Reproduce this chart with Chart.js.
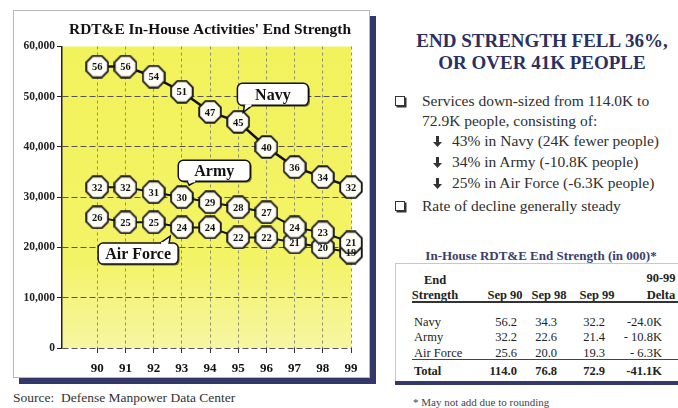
<!DOCTYPE html>
<html>
<head>
<meta charset="utf-8">
<script src="https://cdn.jsdelivr.net/npm/chart.js@4.4.1/dist/chart.umd.min.js"></script>
<style>
html, body { margin: 0; padding: 0; background: #fff; }
body { width: 678px; height: 408px; position: relative; overflow: hidden;
       font-family: 'Liberation Serif', 'Times New Roman', serif; color: #2a2a2a; }
#frame { position: absolute; left: 13px; top: 10px; width: 357px; height: 368px; box-sizing: border-box;
         border: 1px solid #b8b8b8; background: #fff; box-shadow: 6px 6px 0 #33376a; }
#wrap { position: absolute; left: 13px; top: 10px; width: 357px; height: 368px; }
.t { position: absolute; white-space: nowrap; line-height: 1; }
.c { transform: translate(-50%, -50%); }
.r { transform: translate(-100%, -50%); }
.m { transform: translateY(-50%); }
.head { font-weight: bold; font-size: 19px; color: #2b2f62; }
.txt { font-size: 15.5px; color: #2e2e2e; }
.box { position: absolute; width: 8px; height: 8px; border: 1.3px solid #333; box-shadow: 1.5px 1.5px 0 #333; }
.arrow { position: absolute; }
.tb { font-size: 12.5px; color: #222; }
.tb b { font-weight: bold; }
.line { position: absolute; }
</style>
</head>
<body>
<div id="frame"></div>
<div id="wrap"><canvas id="grafico"></canvas></div>

<div class="t" style="left:13px; top:391px; font-size:13.5px; color:#333;">Source:&nbsp; Defense Manpower Data Center</div>

<!-- right panel -->
<div class="t c head" style="left:542px; top:40px;">END STRENGTH FELL 36%,</div>
<div class="t c head" style="left:542px; top:62px;">OR OVER 41K PEOPLE</div>

<div class="box" style="left:395px; top:96px;"></div>
<div class="t m txt" style="left:422px; top:101px;">Services down-sized from 114.0K to</div>
<div class="t m txt" style="left:422px; top:121px;">72.9K people, consisting of:</div>
<svg class="arrow" style="left:433px; top:136px;" width="9" height="11" viewBox="0 0 9 11"><path d="M3 0h3v6h3l-4.5 5L0 6h3z" fill="#333"/></svg>
<div class="t m txt" style="left:452px; top:141px;">43% in Navy (24K fewer people)</div>
<svg class="arrow" style="left:433px; top:157px;" width="9" height="11" viewBox="0 0 9 11"><path d="M3 0h3v6h3l-4.5 5L0 6h3z" fill="#333"/></svg>
<div class="t m txt" style="left:452px; top:162px;">34% in Army (-10.8K people)</div>
<svg class="arrow" style="left:433px; top:178px;" width="9" height="11" viewBox="0 0 9 11"><path d="M3 0h3v6h3l-4.5 5L0 6h3z" fill="#333"/></svg>
<div class="t m txt" style="left:452px; top:183px;">25% in Air Force (-6.3K people)</div>
<div class="box" style="left:395px; top:201px;"></div>
<div class="t m txt" style="left:422px; top:206px;">Rate of decline generally steady</div>

<!-- table -->
<div class="t c" style="left:541px; top:255px; font-size:13px; font-weight:bold; color:#3a3e6c;">In-House RDT&amp;E End Strength (in 000)*</div>
<div class="line" style="left:395px; top:263px; width:283px; height:1px; background:#c8c8c8;"></div>
<div class="line" style="left:395px; top:263px; width:1px; height:120px; background:#c8c8c8;"></div>
<div class="t c tb" style="left:435px; top:280px;"><b>End</b></div>
<div class="t c tb" style="left:435px; top:295px;"><b>Strength</b></div>
<div class="t c tb" style="left:505px; top:295px;"><b>Sep 90</b></div>
<div class="t c tb" style="left:549px; top:295px;"><b>Sep 98</b></div>
<div class="t c tb" style="left:597px; top:295px;"><b>Sep 99</b></div>
<div class="t c tb" style="left:661px; top:278px;"><b>90-99</b></div>
<div class="t c tb" style="left:661px; top:295px;"><b>Delta</b></div>
<div class="line" style="left:412px; top:301px; width:266px; height:1.5px; background:#333;"></div>

<div class="t m tb" style="left:414px; top:322px;">Navy</div>
<div class="t r tb" style="left:517px; top:322px;">56.2</div>
<div class="t r tb" style="left:557px; top:322px;">34.3</div>
<div class="t r tb" style="left:605px; top:322px;">32.2</div>
<div class="t r tb" style="left:662px; top:322px;">-24.0K</div>

<div class="t m tb" style="left:414px; top:337px;">Army</div>
<div class="t r tb" style="left:517px; top:337px;">32.2</div>
<div class="t r tb" style="left:557px; top:337px;">22.6</div>
<div class="t r tb" style="left:605px; top:337px;">21.4</div>
<div class="t r tb" style="left:662px; top:337px;">- 10.8K</div>

<div class="t m tb" style="left:414px; top:353px;">Air Force</div>
<div class="t r tb" style="left:517px; top:353px;">25.6</div>
<div class="t r tb" style="left:557px; top:353px;">20.0</div>
<div class="t r tb" style="left:605px; top:353px;">19.3</div>
<div class="t r tb" style="left:662px; top:353px;">- 6.3K</div>
<div class="line" style="left:412px; top:359px; width:266px; height:1px; background:#444;"></div>

<div class="t m tb" style="left:414px; top:371px;"><b>Total</b></div>
<div class="t r tb" style="left:517px; top:371px;"><b>114.0</b></div>
<div class="t r tb" style="left:557px; top:371px;"><b>76.8</b></div>
<div class="t r tb" style="left:605px; top:371px;"><b>72.9</b></div>
<div class="t r tb" style="left:662px; top:371px;"><b>-41.1K</b></div>
<div class="line" style="left:395px; top:381px; width:283px; height:4px; background:#34386a;"></div>
<div class="t m" style="left:413px; top:402px; font-size:11px; color:#444;">* May not add due to rounding</div>

<script>
const SERIF = "'Liberation Serif', 'Times New Roman', serif";

// end strength in thousands
const years = ['90', '91', '92', '93', '94', '95', '96', '97', '98', '99'];
const navy = [56, 56, 54, 51, 47, 45, 40, 36, 34, 32];
const army = [32, 32, 31, 30, 29, 28, 27, 24, 23, 21];
const airForce = [26, 25, 25, 24, 24, 22, 22, 21, 20, 19];
const yTicks = [0, 10, 20, 30, 40, 50, 60];

// callout boxes, anchored in data units
const callouts = [
    { text: 'Navy', x: 96.23, y: 50.47, w: 71, h: 22, tipX: 95.18, tipY: 46.9, edge: 'bottom', base: [7, 15] },
    { text: 'Army', x: 94.15, y: 35.27, w: 72, h: 21, tipX: 93.26, tipY: 32.4, edge: 'bottom', base: [9, 18] },
    { text: 'Air Force', x: 91.45, y: 18.78, w: 80, h: 21, tipX: 92.59, tipY: 22.25, edge: 'top', base: [62, 71] }
];

function makeOctagon(size) {
    const c = document.createElement('canvas');
    c.width = c.height = size;
    const g = c.getContext('2d');
    const mid = size / 2;
    const r = (mid - 1.2) / Math.cos(Math.PI / 8);
    g.beginPath();
    for (let k = 0; k < 8; k++) {
        const a = Math.PI / 8 + k * Math.PI / 4;
        const px = mid + r * Math.cos(a), py = mid + r * Math.sin(a);
        if (k === 0) g.moveTo(px, py); else g.lineTo(px, py);
    }
    g.closePath();
    g.fillStyle = '#fdfdf6';
    g.fill();
    g.lineWidth = 1.9;
    g.strokeStyle = '#1a1a1a';
    g.stroke();
    return c;
}
const octagon = makeOctagon(24);

const toPoints = vals => vals.map((v, i) => ({ x: Number(years[i]), y: v }));

const plotBackground = {
    id: 'plotBackground',
    beforeDraw(chart) {
        const { ctx, chartArea: a } = chart;
        const g = ctx.createLinearGradient(0, a.top, 0, a.bottom);
        g.addColorStop(0, '#f2f25c');
        g.addColorStop(0.7, '#f3f366');
        g.addColorStop(1, '#f6f6a2');
        ctx.save();
        ctx.fillStyle = g;
        ctx.fillRect(a.left, a.top, a.right - a.left, a.bottom - a.top);
        ctx.restore();
    }
};

// numbers inside the octagons, drawn after all markers so none gets hidden
const markerLabels = {
    id: 'markerLabels',
    afterDatasetsDraw(chart) {
        const ctx = chart.ctx;
        ctx.save();
        ctx.font = 'bold 10.5px ' + SERIF;
        ctx.fillStyle = '#111';
        ctx.textAlign = 'center';
        ctx.textBaseline = 'middle';
        chart.data.datasets.forEach((ds, di) => {
            chart.getDatasetMeta(di).data.forEach((pt, i) => {
                ctx.fillText(String(ds.data[i].y), pt.x, pt.y + 1);
            });
        });
        ctx.restore();
    }
};

const calloutBoxes = {
    id: 'calloutBoxes',
    afterDatasetsDraw(chart) {
        const { ctx, scales: { x, y } } = chart;
        callouts.forEach(c => {
            const cx = x.getPixelForValue(c.x), cy = y.getPixelForValue(c.y);
            const l = cx - c.w / 2, t = cy - c.h / 2;
            const tx = x.getPixelForValue(c.tipX), ty = y.getPixelForValue(c.tipY);
            const ey = c.edge === 'bottom' ? t + c.h : t;
            ctx.save();
            ctx.beginPath();
            ctx.roundRect(l, t, c.w, c.h, 5);
            ctx.shadowColor = 'rgba(0,0,0,0.55)';
            ctx.shadowOffsetX = 1.5;
            ctx.shadowOffsetY = 1.5;
            ctx.fillStyle = '#fff';
            ctx.fill();
            ctx.shadowColor = 'transparent';
            ctx.lineWidth = 1.5;
            ctx.strokeStyle = '#111';
            ctx.stroke();
            // tail
            ctx.beginPath();
            ctx.moveTo(l + c.base[0], ey);
            ctx.lineTo(tx, ty);
            ctx.lineTo(l + c.base[1], ey);
            ctx.fill();
            ctx.stroke();
            ctx.beginPath();
            ctx.moveTo(l + c.base[0] + 1, ey);
            ctx.lineTo(l + c.base[1] - 1, ey);
            ctx.lineWidth = 2.2;
            ctx.strokeStyle = '#fff';
            ctx.stroke();
            ctx.font = 'bold 16px ' + SERIF;
            ctx.fillStyle = '#111';
            ctx.textAlign = 'center';
            ctx.textBaseline = 'middle';
            ctx.fillText(c.text, cx, cy + 1);
            ctx.restore();
        });
    }
};

function series(label, vals, width) {
    return {
        label: label,
        data: toPoints(vals),
        borderColor: '#111',
        borderWidth: width,
        pointStyle: octagon,
        pointRadius: 12,
        pointHoverRadius: 12,
        clip: false,
        tension: 0
    };
}

new Chart(document.getElementById('grafico').getContext('2d'), {
    type: 'line',
    data: {
        datasets: [
            series('Navy', navy, 2.5),
            series('Army', army, 2),
            series('Air Force', airForce, 2)
        ]
    },
    options: {
        responsive: true,
        maintainAspectRatio: false,
        animation: false,
        events: [],
        layout: { padding: { left: 0, right: 19, top: 0, bottom: 0 } },
        plugins: {
            legend: { display: false },
            tooltip: { enabled: false },
            title: {
                display: true,
                text: "RDT&E In-House Activities' End Strength",
                align: 'end',
                color: '#111',
                font: { family: SERIF, size: 15.4, weight: 'bold' },
                padding: { top: 11, bottom: 7 }
            }
        },
        scales: {
            x: {
                type: 'linear',
                min: 88.75,
                max: 99,
                afterBuildTicks: ax => { ax.ticks = years.map(v => ({ value: Number(v) })); },
                afterFit: ax => { ax.height = 30; },
                ticks: {
                    autoSkip: false,
                    maxRotation: 0,
                    padding: 8,
                    color: '#111',
                    font: { family: SERIF, size: 13, weight: 'bold' },
                    callback: v => String(v)
                },
                grid: { color: '#8e8e78', lineWidth: 1, tickLength: 5, tickColor: '#333' },
                border: { display: false, dash: [3, 3] }
            },
            y: {
                min: 0,
                max: 60,
                afterBuildTicks: ax => { ax.ticks = yTicks.map(v => ({ value: v })); },
                afterFit: ax => { ax.width = 49; },
                ticks: {
                    padding: 2,
                    color: '#222',
                    font: { family: SERIF, size: 11.5, weight: 'bold' },
                    callback: v => (v * 1000).toLocaleString('en-US')
                },
                grid: {
                    color: c => (c.tick && c.tick.value === 60) ? 'rgba(0,0,0,0)' : '#555',
                    lineWidth: 1,
                    tickLength: 5,
                    tickColor: '#222'
                },
                border: { display: true, color: '#222', width: 1.5, dash: [6, 3] }
            }
        }
    },
    plugins: [plotBackground, markerLabels, calloutBoxes]
});
</script>
</body>
</html>
